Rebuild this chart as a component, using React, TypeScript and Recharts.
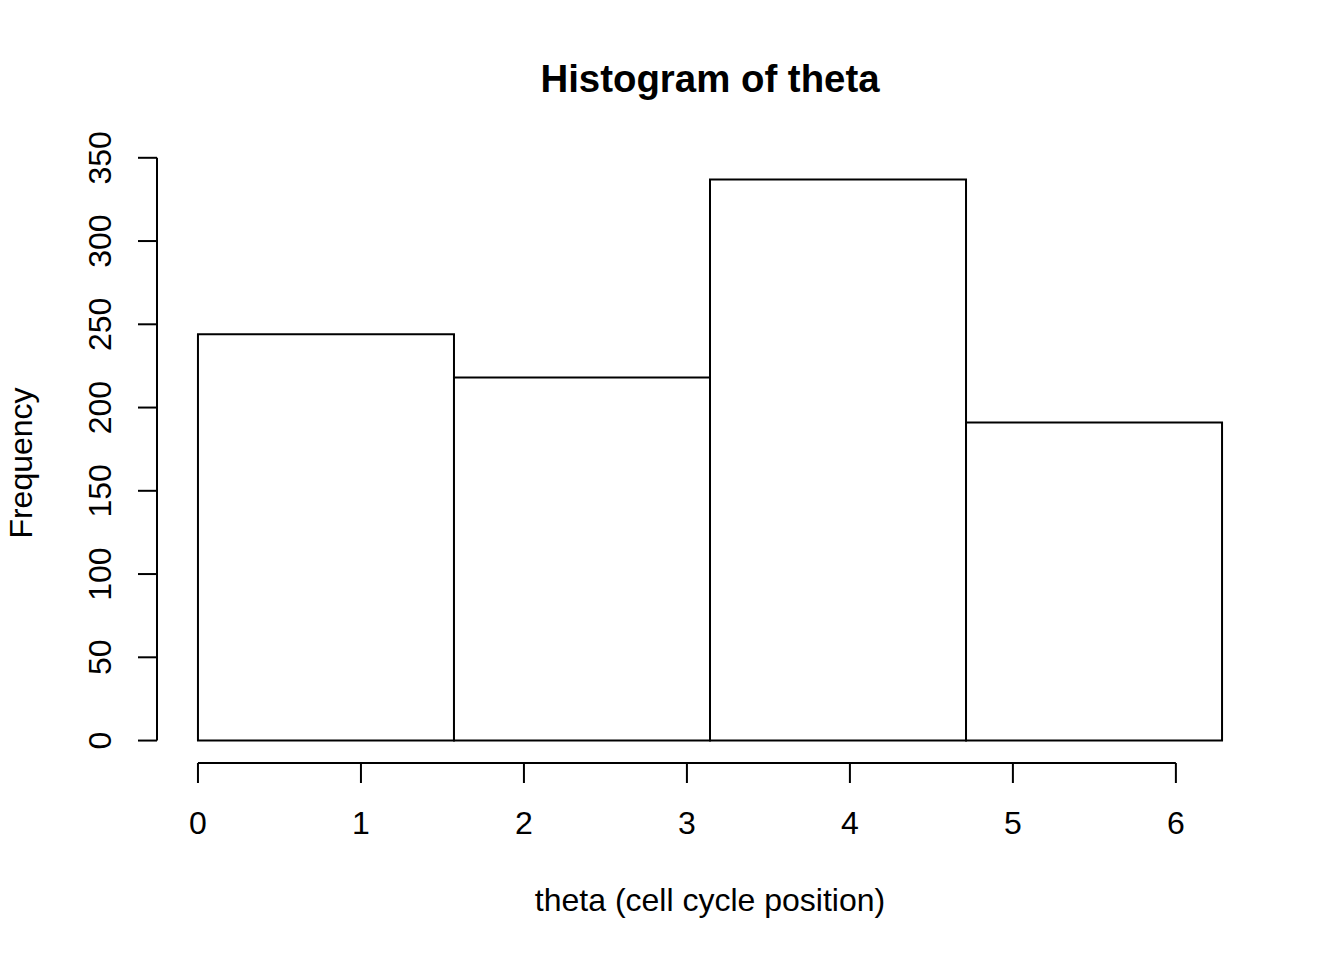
import React from "react";
import {
  ComposedChart,
  ReferenceArea,
  ReferenceLine,
  XAxis,
  YAxis,
} from "recharts";

// histogram of theta, 4 bins over [0, 2*pi]
const binStarts = [0, 1.5708, 3.1416, 4.7124];
const binEnds = [1.5708, 3.1416, 4.7124, 6.2832];
const counts = [244, 218, 337, 191];

const xTicks = [0, 1, 2, 3, 4, 5, 6];
const yTicks = [0, 50, 100, 150, 200, 250, 300, 350];

const title = "Histogram of theta";
const xLabel = "theta (cell cycle position)";
const yLabel = "Frequency";

const bins = counts.map((n, i) => ({ x0: binStarts[i], x1: binEnds[i], count: n }));

if (typeof document !== "undefined") document.body.style.margin = "0";

const FONT = '"Liberation Sans", Arial, Helvetica, sans-serif';
const W = 1344;
const H = 960;

function XTick(props: any) {
  const { x, y, payload } = props;
  return (
    <text x={x} y={y + 49} textAnchor="middle" fontSize={32} fontFamily={FONT} fill="#000">
      {payload.value}
    </text>
  );
}

function YTick(props: any) {
  const { x, y, payload } = props;
  const bx = x - 25;
  return (
    <text
      x={bx}
      y={y}
      transform={`rotate(-90, ${bx}, ${y})`}
      textAnchor="middle"
      fontSize={32}
      fontFamily={FONT}
      fill="#000"
    >
      {payload.value}
    </text>
  );
}

export default function App() {
  return (
    <div style={{ position: "relative", width: W, height: H, background: "#fff" }}>
      <ComposedChart
        width={W}
        height={H}
        data={bins}
        margin={{ top: 157, right: 81, bottom: 0, left: 0 }}
      >
        <XAxis
          type="number"
          dataKey="x0"
          domain={[-0.2513, 6.5345]}
          ticks={xTicks}
          allowDataOverflow
          axisLine={false}
          tickLine={{ stroke: "#000", strokeWidth: 2 }}
          tickSize={20}
          tick={<XTick />}
          height={197}
          interval={0}
        />
        <YAxis
          type="number"
          domain={[-13.48, 350.48]}
          ticks={yTicks}
          allowDataOverflow
          axisLine={false}
          tickLine={{ stroke: "#000", strokeWidth: 2 }}
          tickSize={19}
          tick={<YTick />}
          width={157}
          interval={0}
        />
        {bins.map((b, i) => (
          <ReferenceArea
            key={i}
            x1={b.x0}
            x2={b.x1}
            y1={0}
            y2={b.count}
            fill="#fff"
            fillOpacity={1}
            stroke="#000"
            strokeWidth={2}
            strokeOpacity={1}
            ifOverflow="visible"
          />
        ))}
        <ReferenceLine
          segment={[
            { x: -0.2513, y: 0 },
            { x: -0.2513, y: 350 },
          ]}
          stroke="#000"
          strokeWidth={2}
          ifOverflow="visible"
        />
        <ReferenceLine
          segment={[
            { x: 0, y: -13.48 },
            { x: 6, y: -13.48 },
          ]}
          stroke="#000"
          strokeWidth={2}
          ifOverflow="visible"
        />
      </ComposedChart>
      <svg
        width={W}
        height={H}
        style={{ position: "absolute", left: 0, top: 0, pointerEvents: "none" }}
      >
        <text x={710} y={92} textAnchor="middle" fontSize={38.4} fontWeight="bold" fontFamily={FONT} fill="#000">
          {title}
        </text>
        <text x={710} y={911} textAnchor="middle" fontSize={32} fontFamily={FONT} fill="#000">
          {xLabel}
        </text>
        <text
          x={32}
          y={463}
          transform="rotate(-90, 32, 463)"
          textAnchor="middle"
          fontSize={32}
          fontFamily={FONT}
          fill="#000"
        >
          {yLabel}
        </text>
      </svg>
    </div>
  );
}
